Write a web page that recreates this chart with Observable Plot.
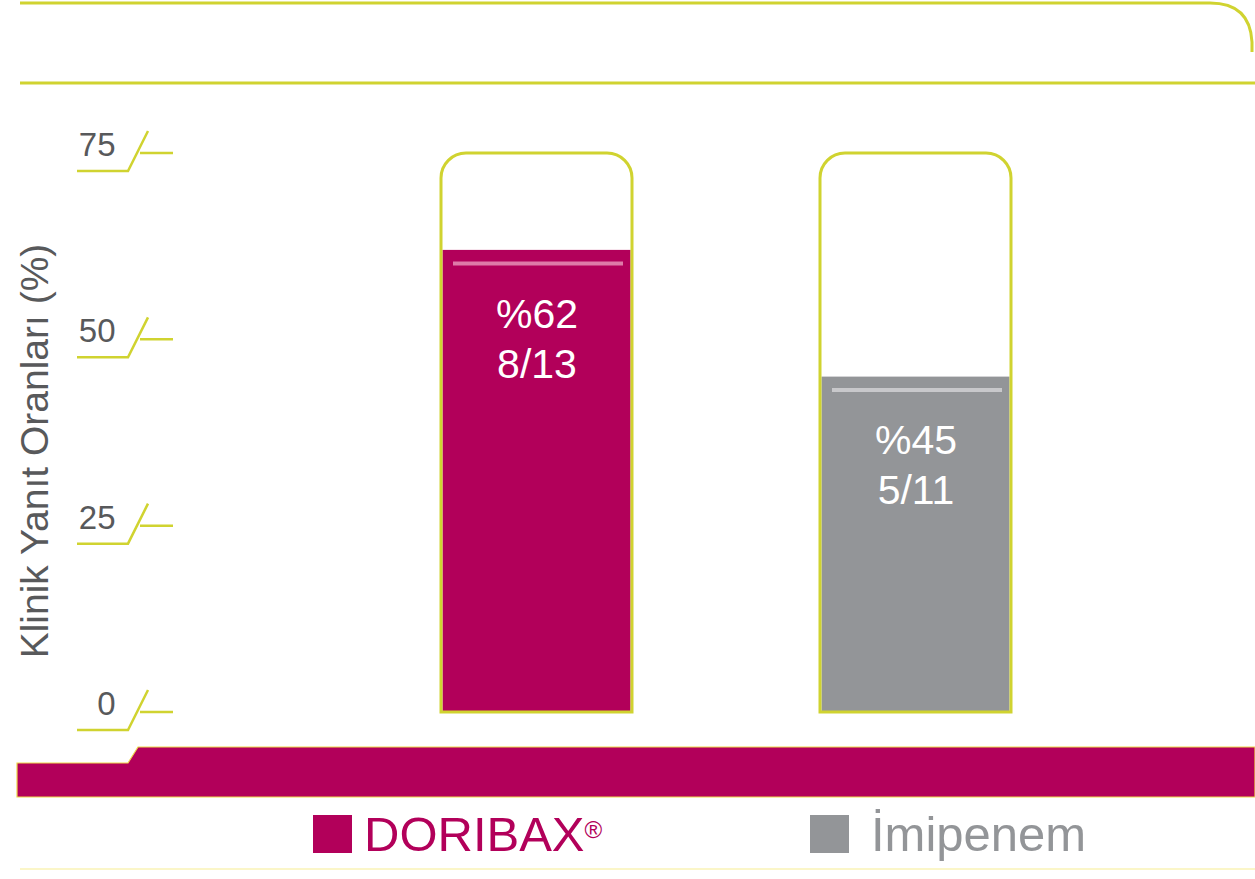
<!DOCTYPE html>
<html><head><meta charset="utf-8">
<script src="https://cdn.jsdelivr.net/npm/d3@7"></script>
<script src="https://cdn.jsdelivr.net/npm/@observablehq/plot@0.6"></script>
<style>
body{margin:0;background:#fff;width:1255px;height:879px;overflow:hidden;font-family:"Liberation Sans",Arial,sans-serif}
#legend{position:relative;height:69px;width:1255px}
#legend .sw{position:absolute;top:5px;width:39px;height:38px}
#legend .lb{position:absolute;top:-4px;font-family:"Liberation Sans Narrow","Arial Narrow","Liberation Sans",sans-serif;font-size:49px;line-height:56px;white-space:nowrap}
#legend sup{font-size:24px;vertical-align:top;position:relative;top:-4px}
#legend .fl{position:absolute;left:20px;right:0;top:58px;height:2px;background:#fbf6c8}
</style></head><body><div id="chart"></div><div id="legend"></div>
<script>
// ---- data ----
const categories = ["DORIBAX®", "İmipenem"];
const rates = [62, 45];
const responders = ["8/13", "5/11"];
const yTicks = [0, 25, 50, 75];
const yLabel = "Klinik Yanıt Oranları (%)";

// ---- styles ----
const barColors = ["#b2005a", "#939598"];
const shineColors = ["#de7aa8", "#c8c8cb"];
const lime = "#d0d330";
const textGray = "#58595b";

const data = categories.map((c, i) => ({cat: c, value: rates[i], frac: responders[i], color: barColors[i], shine: shineColors[i]}));

// decorative frame: top rounded lines + magenta base band
function frameDecor(index, scales, values, dim) {
  const g = d3.create("svg:g");
  const W = dim.width;
  const y0 = scales.y(0);
  g.append("path")
    .attr("d", `M20,3 H1210 Q1250,3 1252,42 V52`)
    .attr("fill", "none").attr("stroke", lime).attr("stroke-width", 3);
  g.append("path")
    .attr("d", `M20,83 H${W}`)
    .attr("fill", "none").attr("stroke", lime).attr("stroke-width", 3);
  g.append("path")
    .attr("d", `M17,${y0 + 51} H128 L138,${y0 + 35} H${W} V${y0 + 85} H17 Z`)
    .attr("fill", barColors[0]).attr("stroke", "#eed84a").attr("stroke-width", 1.2);
  return g.node();
}

// decorative tick marks for y axis
function tickDecor(index, scales, values, dim) {
  const g = d3.create("svg:g");
  const ml = dim.marginLeft;
  for (const t of yTicks) {
    const y = scales.y(t);
    g.append("path")
      .attr("d", `M${ml - 176},${y + 18} H${ml - 125} L${ml - 105},${y - 22} M${ml - 113},${y} H${ml - 80}`)
      .attr("fill", "none").attr("stroke", lime).attr("stroke-width", 2.5);
  }
  return g.node();
}

// rounded-top tube outline around each bar (full scale height)
function tubeOutline(index, scales, values, dim) {
  const g = d3.create("svg:g");
  const x = scales.x;
  const bw = x.bandwidth ? x.bandwidth() : scales.scales.x.bandwidth;
  const yt = scales.y(75), yb = scales.y(0), r = 25;
  for (const c of categories) {
    const x0 = x(c), x1 = x0 + bw;
    g.append("path")
      .attr("d", `M${x0},${yb} V${yt + r} A${r},${r} 0 0 1 ${x0 + r},${yt} H${x1 - r} A${r},${r} 0 0 1 ${x1},${yt + r} V${yb} Z`)
      .attr("fill", "none").attr("stroke", lime).attr("stroke-width", 3);
  }
  return g.node();
}

const chart = Plot.plot({
  width: 1255,
  height: 810,
  marginTop: 153,
  marginBottom: 98,
  marginLeft: 253,
  marginRight: 56,
  style: {fontFamily: "'Liberation Sans', Arial, sans-serif", background: "transparent", overflow: "visible"},
  x: {domain: categories, padding: 0.496, axis: null},
  y: {domain: [0, 75], axis: null},
  marks: [
    frameDecor,
    Plot.barY(data, {x: "cat", y: "value", fill: "color", insetLeft: 1.5, insetRight: 1.5}),
    Plot.tickY(data, {x: "cat", y: "value", dy: 13, insetLeft: 12, insetRight: 9, stroke: "shine", strokeWidth: 4}),
    tubeOutline,
    tickDecor,
    Plot.axisY(yTicks, {tickSize: 0, tickPadding: 138, dy: -8, fontSize: 33, fill: textGray, label: null}),
    Plot.text(data, {x: "cat", y: "value", text: d => "%" + d.value, dy: 64, fill: "white", fontSize: 41}),
    Plot.text(data, {x: "cat", y: "value", text: "frac", dy: 114, fill: "white", fontSize: 41}),
    Plot.text([yLabel], {frameAnchor: "left", textAnchor: "middle", text: d => d, rotate: -90, dx: -218, dy: 18, fill: textGray, fontSize: 39})
  ]
});
document.getElementById("chart").appendChild(chart);

// ---- legend (HTML, below the SVG) ----
const legend = document.getElementById("legend");
const legendPos = [{sw: 313, lb: 364}, {sw: 810, lb: 871}];
categories.forEach((c, i) => {
  const s = document.createElement("div");
  s.className = "sw"; s.style.left = legendPos[i].sw + "px"; s.style.background = barColors[i];
  legend.appendChild(s);
  const l = document.createElement("div");
  l.className = "lb"; l.style.left = legendPos[i].lb + "px"; l.style.color = barColors[i];
  if (c.endsWith("®")) { l.textContent = c.slice(0, -1); const sp = document.createElement("sup"); sp.textContent = "®"; l.appendChild(sp); }
  else l.textContent = c;
  legend.appendChild(l);
});
const fl = document.createElement("div"); fl.className = "fl"; legend.appendChild(fl);
</script></body></html>
